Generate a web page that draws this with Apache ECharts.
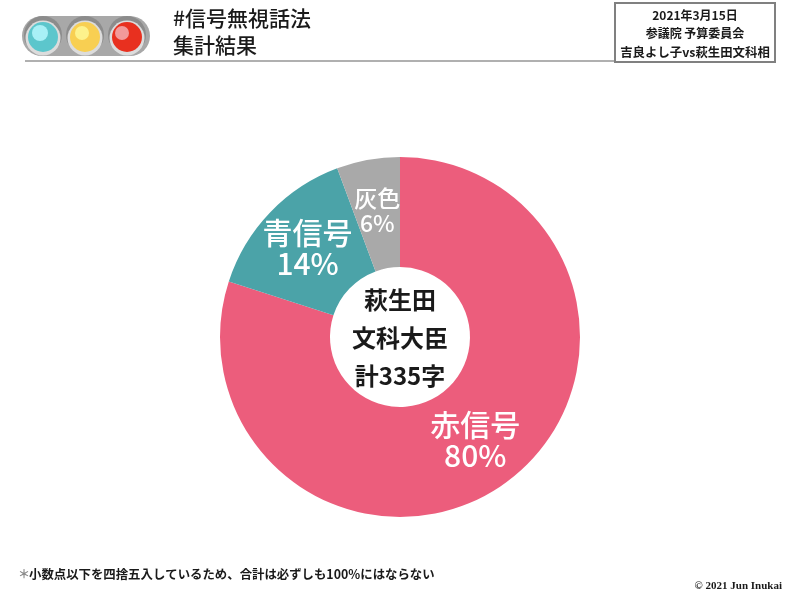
<!DOCTYPE html>
<html>
<head>
<meta charset="utf-8">
<title>#信号無視話法 集計結果</title>
<script src="https://cdn.jsdelivr.net/npm/echarts@6/dist/echarts.min.js"></script>
<style>
  html, body { margin: 0; padding: 0; background: #fff; }
  #chart { width: 800px; height: 600px; }
</style>
</head>
<body>
<div id="chart"></div>
<script>
// character counts, 335 in total
const categories = ['赤信号', '青信号', '灰色']
const counts = [268, 48, 19]
const colors = ['#ec5d7c', '#4ba3a8', '#a9a9a9']
const labelSizes = [30, 30, 23]
const labelLineHeights = [31, 31, 25]

const titleLines = ['#信号無視話法', '集計結果']
const infoLines = ['2021年3月15日', '参議院 予算委員会', '吉良よし子vs萩生田文科相']
const centerLines = ['萩生田', '文科大臣', '計335字']
const footnoteMark = '＊'
const footnote = '小数点以下を四捨五入しているため、合計は必ずしも100%にはならない'
const copyright = '© 2021 Jun Inukai'

const cjk = '"Noto Sans CJK JP", sans-serif'

function text(x, y, str, size, opts) {
  return {
    type: 'text',
    x: x,
    y: y,
    z: 10,
    style: Object.assign({
      text: str,
      fontFamily: cjk,
      fontSize: size,
      fontWeight: 500,
      fill: '#1a1a1a',
      align: 'left',
      verticalAlign: 'middle'
    }, opts)
  }
}

function lamp(x, fill, glow, glowX, glowR) {
  return [
    { type: 'circle', shape: { cx: x, cy: 35, r: 19 }, style: { fill: '#8c8c8c' } },
    { type: 'circle', shape: { cx: x, cy: 38, r: 17.5 }, style: { fill: '#dcdcdc' } },
    { type: 'circle', shape: { cx: x, cy: 37, r: 15 }, style: { fill: fill } },
    { type: 'circle', shape: { cx: glowX, cy: 33, r: glowR }, style: { fill: glow } }
  ]
}

const chart = echarts.init(document.getElementById('chart'))

chart.setOption({
  backgroundColor: '#fff',
  animation: false,
  graphic: [
    // signal icon
    { type: 'rect', shape: { x: 22, y: 16, width: 128, height: 40, r: 20 }, style: { fill: '#a8a8a8' } },
    ...lamp(43, '#5cc6cc', '#a8f0f6', 40, 8),
    ...lamp(85, '#f8cf52', '#fdf28c', 82, 7),
    ...lamp(127, '#e8301f', '#f29a9a', 122, 7),
    // header
    { type: 'rect', shape: { x: 25, y: 60, width: 590, height: 2 }, style: { fill: '#b0b0b0' } },
    text(173, 18, titleLines[0], 21),
    text(173, 45, titleLines[1], 21),
    {
      type: 'rect',
      shape: { x: 615, y: 3, width: 160, height: 59 },
      style: { fill: '#fff', stroke: '#808080', lineWidth: 2 }
    },
    text(695, 15, infoLines[0], 12, { align: 'center', fontWeight: 700 }),
    text(695, 33, infoLines[1], 12, { align: 'center', fontWeight: 700 }),
    text(695, 52, infoLines[2], 12.4, { align: 'center', fontWeight: 700 }),
    // center of the ring
    text(400, 300, centerLines[0], 24, { align: 'center', fontWeight: 700 }),
    text(400, 338, centerLines[1], 24, { align: 'center', fontWeight: 700 }),
    text(400, 376, centerLines[2], 24, { align: 'center', fontWeight: 700 }),
    // footer
    text(18, 574, footnoteMark, 12, { fill: '#888', fontWeight: 700 }),
    text(29, 574, footnote, 12.4, { fontWeight: 700 }),
    text(782, 586, copyright, 11, {
      align: 'right',
      fontFamily: '"Liberation Serif", serif',
      fontWeight: 700
    })
  ],
  series: [{
    type: 'pie',
    center: [400, 337],
    radius: [70, 180],
    startAngle: 90,
    clockwise: true,
    silent: true,
    avoidLabelOverlap: false,
    labelLayout: { hideOverlap: false },
    labelLine: { show: false },
    data: categories.map((name, i) => ({
      name: name,
      value: counts[i],
      itemStyle: { color: colors[i] },
      label: {
        show: true,
        position: 'inside',
        formatter: p => p.name + '\n' + Math.round(p.percent) + '%',
        color: '#fff',
        fontFamily: cjk,
        fontSize: labelSizes[i],
        fontWeight: 500,
        lineHeight: labelLineHeights[i],
        textBorderWidth: 0
      }
    }))
  }]
})
</script>
</body>
</html>
